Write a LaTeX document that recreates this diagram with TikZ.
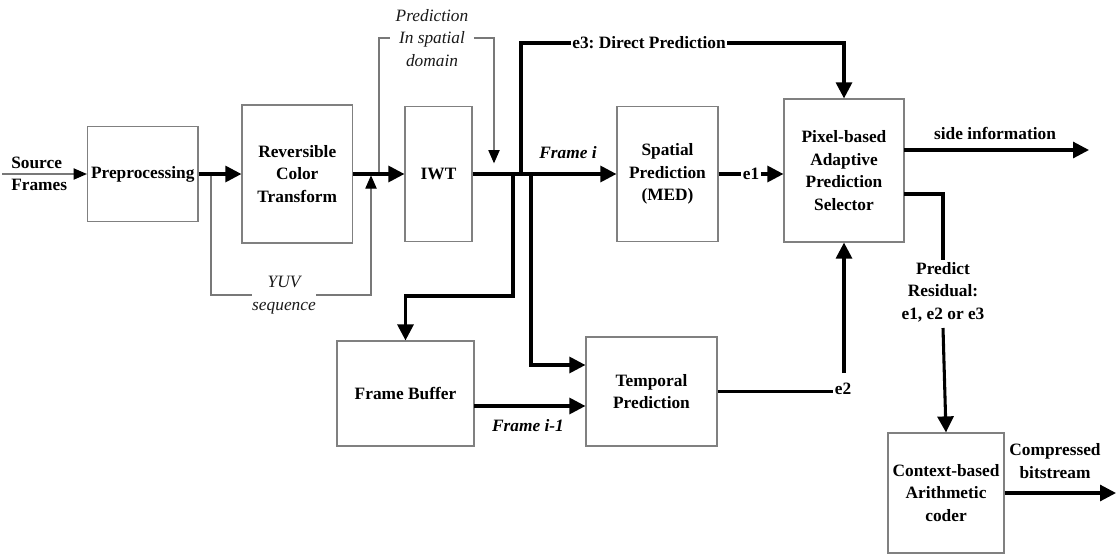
\documentclass[tikz,border=0pt]{standalone}
\usepackage{fontspec}
\setmainfont{Liberation Serif}
\usetikzlibrary{arrows.meta}
\definecolor{boxgray}{RGB}{128,128,128}
\definecolor{linegray}{RGB}{120,120,120}
\definecolor{notegray}{RGB}{25,25,25}
\frenchspacing
\begin{document}
\begin{tikzpicture}[x=0.75pt,y=-0.75pt,
  every node/.style={font=\fontsize{13}{17}\selectfont\bfseries, inner sep=0pt},
  blk/.style={draw=boxgray, line width=0.9pt, align=center, fill=white},
  flow/.style={line width=2.3pt, -{Triangle[length=12pt,width=12pt]}},
  bus/.style={line width=2.3pt},
  aux/.style={draw=linegray, line width=0.9pt},
  auxarrow/.style={aux, -{Triangle[length=10pt,width=8.5pt,color=black]}},
  note/.style={font=\fontsize{13}{17}\selectfont\itshape, text=notegray, align=center},
  tag/.style={align=center, inner sep=1pt}
]
\useasboundingbox (0,0) rectangle (1116,554);

% processing blocks
\node[blk, minimum width=82.9pt, minimum height=71.25pt] (pre) at (142.75,174) {Preprocessing};
\node[blk, minimum width=82.9pt, minimum height=103.5pt] (rct) at (297.25,174) {Reversible\\Color\\Transform};
\node[blk, minimum width=50.25pt, minimum height=101.25pt] (iwt) at (438.5,174) {IWT};
\node[blk, minimum width=75.75pt, minimum height=101.25pt] (sp) at (667.5,174) {Spatial\\Prediction\\(MED)};
\node[blk, minimum width=90pt, minimum height=107.25pt] (sel) at (844,170.5) {Pixel-based\\Adaptive\\Prediction\\Selector};
\node[blk, minimum width=102.75pt, minimum height=78.75pt] (fb) at (405.5,393.5) {Frame Buffer};
\node[blk, minimum width=98.25pt, minimum height=81.75pt] (tp) at (651.5,391.5) {Temporal\\Prediction};
\node[blk, minimum width=87pt, minimum height=90pt] (cab) at (946,493) {Context-based\\Arithmetic\\coder};

% labels
\node[align=left, anchor=west] (src) at (11,174) {Source\\Frames};
\node[note, inner sep=4pt] (pred) at (432,38) {Prediction\\In spatial\\domain};
\node[note, inner sep=0pt] (yuv) at (284,295) {YUV\\sequence};
\node[font=\fontsize{13}{17}\selectfont\bfseries\itshape] (fri) at (568,153) {Frame i};
\node[font=\fontsize{13}{17}\selectfont\bfseries\itshape] (fri1) at (528,426) {Frame i-1};
\node[tag] (e3) at (649,43) {e3: Direct Prediction};
\node[tag] (e1) at (751,174) {e1};
\node[tag] (e2) at (843,389) {e2};
\node (side) at (995,133) {side information};
\node[tag] (res) at (943,292) {Predict\\Residual:\\e1, e2 or e3};
\node[align=center] (cbs) at (1055,461) {Compressed\\bitstream};

% junctions and free ends
\coordinate (s0) at (2,174);
\coordinate (y0) at (211,174);
\coordinate (y1) at (211,295);
\coordinate (y2) at (371,295);
\coordinate (y3) at (371,174);
\coordinate (p0) at (379,174);
\coordinate (p1) at (379,38);
\coordinate (p2) at (494,38);
\coordinate (p3) at (494,174);
\coordinate (j1) at (513,174);
\coordinate (j1b) at (513,296);
\coordinate (j1c) at (405.5,296);
\coordinate (j2) at (521,174);
\coordinate (j2t) at (521,43);
\coordinate (j2r) at (844,43);
\coordinate (j3) at (531,174);
\coordinate (j3b) at (531,365);
\coordinate (fbo) at (474,406);
\coordinate (e2v) at (844,373);
\coordinate (sio) at (904,150);
\coordinate (sie) at (1089,150);
\coordinate (r0) at (904,194);
\coordinate (r1) at (943,194);
\coordinate (r2) at (943,328);
\coordinate (cbe) at (1116,493);

% thin side paths
\draw[auxarrow] (s0) -- (pre.west);
\draw[aux] (y0) -- (y1) -- (yuv.west |- y1);
\draw[auxarrow] (yuv.east |- y2) -- (y2) -- ([yshift=-1pt]y3);
\draw[aux] (p0) -- (p1) -- (pred.west |- p1);
\draw[auxarrow] (pred.east |- p2) -- (p2) -- ([yshift=8pt]p3);

% main data path
\draw[flow] (pre.east) -- (rct.west);
\draw[flow] (rct.east) -- (iwt.west);
\draw[flow] (iwt.east) -- (sp.west);
\draw[flow, line join=miter] (j1) -- (j1b) -- (j1c) -- (fb.north);
\draw[bus, line join=miter] (j2) -- (j2t) -- (e3.west);
\draw[flow, line join=miter] (e3.east) -- (j2r) -- (sel.north);
\draw[flow, line join=miter] (j3) -- (j3b) -- (j3b -| tp.west);
\draw[flow] (fbo) -- (fbo -| tp.west);
\draw[bus] (sp.east) -- (e1.west);
\draw[flow] (e1.east) -- (e1.east -| sel.west);
\draw[bus] (tp.east) -- (e2.west |- tp.east);
\draw[flow] (e2v) -- (sel.south);
\draw[flow] (sio) -- (sie);
\draw[bus, line join=miter] (r0) -- (r1) -- (res.north);
\draw[flow] (r2) -- (cab.north);
\draw[flow] (cab.east) -- (cbe);
\end{tikzpicture}
\end{document}
